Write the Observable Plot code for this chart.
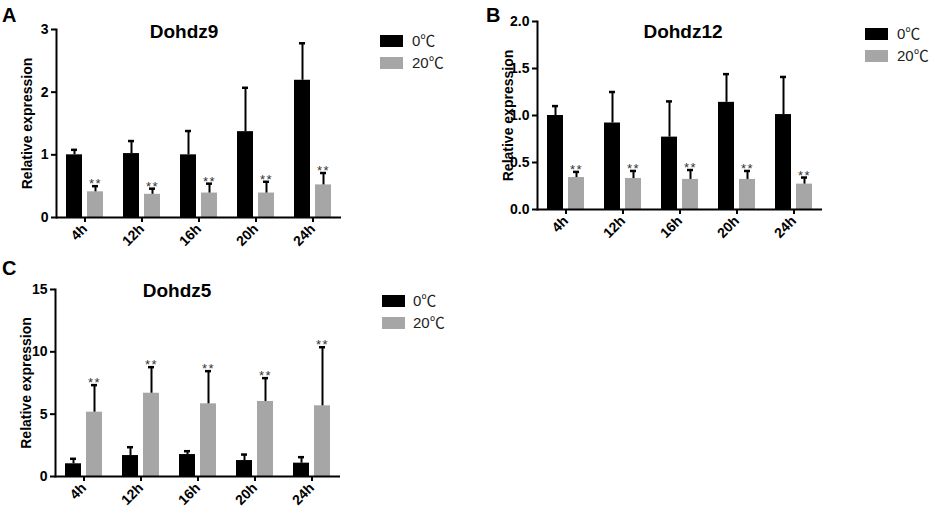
<!DOCTYPE html>
<html>
<head>
<meta charset="utf-8">
<script src="https://cdn.jsdelivr.net/npm/d3@7"></script>
<script src="https://cdn.jsdelivr.net/npm/@observablehq/plot@0.6"></script>
<style>
  html, body { margin: 0; padding: 0; background: #fff; }
  #root { position: relative; width: 934px; height: 514px; background: #fff; overflow: hidden;
          font-family: "Liberation Sans", Arial, "Noto Sans CJK SC", sans-serif; }
  .panel { position: absolute; }
  .title { position: absolute; font-weight: bold; font-size: 19px; line-height: 19px; transform: translateX(-50%); white-space: nowrap; color: #000; }
  .letter { position: absolute; font-weight: bold; font-size: 20px; line-height: 20px; color: #000; }
  .leg { position: absolute; }
  .leg .row { position: absolute; left: 0; height: 12px; white-space: nowrap; }
  .leg .sw { position: absolute; left: 0; top: 0; width: 23px; height: 12px; }
  .leg .lab { position: absolute; top: -3px; font-size: 15px; line-height: 18px; color: #222;
              font-family: "Liberation Sans", Arial, "Noto Sans CJK SC", sans-serif; }
  svg.panel text { font-family: "Liberation Sans", Arial, sans-serif !important; }
  svg g[aria-label="y-axis tick label"] text, svg g[aria-label="fx-axis tick label"] text { font-weight: bold !important; font-size: 14px !important; }
  svg g[aria-label="y-axis tick"], svg g[aria-label="fx-axis tick"] { stroke-width: 2px; }
  svg g[aria-label="frame"] { stroke-width: 2px; }
  svg g[aria-label="y-axis label"] text { font-size: 14px !important; font-weight: bold !important; }
  svg g[aria-label="text"] text { letter-spacing: 1.5px; font-size: 13px !important; }
</style>
</head>
<body>
<div id="root"></div>
<script>
// ---- data ----
const times = ["4h", "12h", "16h", "20h", "24h"];
const series = ["0℃", "20℃"];
const colors = ["#000000", "#a6a6a6"];

// Panel A: Dohdz9
const aMean0 = [1.00, 1.02, 1.00, 1.37, 2.19];
const aSd0   = [0.08, 0.20, 0.38, 0.70, 0.59];
const aMean20 = [0.41, 0.37, 0.39, 0.39, 0.52];
const aSd20   = [0.09, 0.09, 0.15, 0.18, 0.19];
const aTicks = [0, 1, 2, 3];

// Panel B: Dohdz12
const bMean0 = [1.00, 0.92, 0.77, 1.14, 1.01];
const bSd0   = [0.10, 0.33, 0.38, 0.30, 0.40];
const bMean20 = [0.34, 0.33, 0.32, 0.32, 0.27];
const bSd20   = [0.06, 0.08, 0.10, 0.09, 0.07];
const bTicks = [0, 0.5, 1.0, 1.5, 2.0];

// Panel C: Dohdz5
const cMean0 = [1.02, 1.68, 1.76, 1.28, 1.07];
const cSd0   = [0.40, 0.67, 0.27, 0.48, 0.48];
const cMean20 = [5.16, 6.68, 5.83, 6.02, 5.67];
const cSd20   = [2.17, 2.09, 2.62, 1.87, 4.70];
const cTicks = [0, 5, 10, 15];

const titles = ["Dohdz9", "Dohdz12", "Dohdz5"];
const letters = ["A", "B", "C"];
const sigMark = "**";

function buildRows(m0, s0, m20, s20) {
  const rows = [];
  times.forEach((t, i) => {
    rows.push({time: t, series: series[0], mean: m0[i], hi: m0[i] + s0[i], sig: false});
    rows.push({time: t, series: series[1], mean: m20[i], hi: m20[i] + s20[i], sig: true});
  });
  return rows;
}

function panel({rows, ticks, fmt, width, height, mt, ml, mr, mb}) {
  const svg = Plot.plot({
    width, height,
    marginTop: mt, marginLeft: ml, marginRight: mr, marginBottom: mb,
    style: {fontFamily: '"Liberation Sans", Arial, sans-serif', fontSize: "13px", color: "#000", background: "transparent"},
    fx: {domain: times, padding: 0, axis: "bottom", tickRotate: -45, tickSize: 5, tickPadding: 4, label: null},
    x: {domain: series, paddingInner: 0.233, paddingOuter: 0.456, axis: null},
    y: {domain: [ticks[0], ticks[ticks.length - 1]], ticks, tickFormat: fmt, tickSize: 5, tickPadding: 3,
        line: true, label: "Relative expression", labelAnchor: "center", labelOffset: 34, labelArrow: false},
    color: {domain: series, range: colors},
    marks: [
      Plot.barY(rows, {fx: "time", x: "series", y: "mean", fill: "series"}),
      Plot.ruleY([0], {stroke: "#000", strokeWidth: 2}),
      Plot.ruleX(rows, {fx: "time", x: "series", y1: "mean", y2: "hi", stroke: "#000", strokeWidth: 2}),
      Plot.tickY(rows, {fx: "time", x: "series", y: "hi", insetLeft: 5, insetRight: 5, stroke: "#000", strokeWidth: 2.5}),
      Plot.text(rows.filter(d => d.sig), {fx: "time", x: "series", y: "hi", text: () => sigMark,
        lineAnchor: "middle", dy: -2, fontSize: 13, fill: "#333"})
    ]
  });
  return svg;
}

const root = document.getElementById("root");

function place(el, left, top) {
  el.classList.add("panel");
  el.style.left = left + "px";
  el.style.top = top + "px";
  root.appendChild(el);
}
function addText(cls, txt, left, top) {
  const d = document.createElement("div");
  d.className = cls;
  d.textContent = txt;
  d.style.left = left + "px";
  d.style.top = top + "px";
  root.appendChild(d);
}
function addLegend(left, top, textLeft) {
  const lg = document.createElement("div");
  lg.className = "leg";
  lg.style.left = left + "px";
  lg.style.top = top + "px";
  series.forEach((s, i) => {
    const r = document.createElement("div");
    r.className = "row";
    r.style.top = (i * 22) + "px";
    const sw = document.createElement("div");
    sw.className = "sw";
    sw.style.background = colors[i];
    const lab = document.createElement("div");
    lab.className = "lab";
    lab.style.left = textLeft + "px";
    lab.textContent = s;
    r.appendChild(sw); r.appendChild(lab);
    lg.appendChild(r);
  });
  root.appendChild(lg);
}

const intFmt = d3.format("d");
const oneFmt = d3.format(".1f");

place(panel({rows: buildRows(aMean0, aSd0, aMean20, aSd20), ticks: aTicks, fmt: intFmt,
  width: 360, height: 255, mt: 29, ml: 54, mr: 18, mb: 38}), 0, 0);
place(panel({rows: buildRows(bMean0, bSd0, bMean20, bSd20), ticks: bTicks, fmt: oneFmt,
  width: 360, height: 247, mt: 21, ml: 55, mr: 17, mb: 38}), 480, 0);
place(panel({rows: buildRows(cMean0, cSd0, cMean20, cSd20), ticks: cTicks, fmt: intFmt,
  width: 360, height: 264, mt: 39, ml: 54, mr: 20, mb: 38}), 0, 250);

addText("title", titles[0], 184, 22);
addText("title", titles[1], 683, 22);
addText("title", titles[2], 177, 281);
addText("letter", letters[0], 2, 5);
addText("letter", letters[1], 486, 5);
addText("letter", letters[2], 2, 258);

addLegend(380, 35, 32);
addLegend(865, 28, 32);
addLegend(382, 295, 31);
</script>
</body>
</html>
